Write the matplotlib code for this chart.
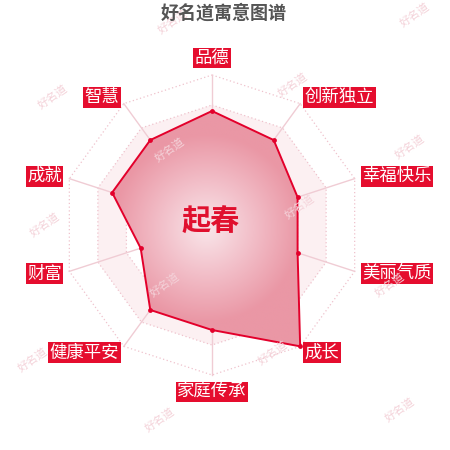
import numpy as np
import matplotlib
matplotlib.use("Agg")
import matplotlib.pyplot as plt
from matplotlib.patches import Polygon
from matplotlib.colors import LinearSegmentedColormap

plt.rcParams['font.family'] = ['Noto Sans CJK SC', 'DejaVu Sans']

# ---- data ----
categories = ["品德", "创新独立", "幸福快乐", "美丽气质", "成长",
              "家庭传承", "健康平安", "财富", "成就", "智慧"]
values = [76, 70, 60, 60, 100, 70, 70, 50, 70, 70]
max_value = 100
title = "好名道寓意图谱"
center_name = "起春"
watermark = "好名道"
watermark_px = [(173, 22), (415, 15), (293, 85), (53, 97), (410, 147),
                (170, 150), (300, 207), (45, 225), (390, 285), (165, 285),
                (33, 360), (273, 353), (160, 420), (400, 410)]

# ---- layout ----
W = H = 450
cx, cy, R = 212, 225, 150
RED = "#e3002b"
BOX = "#e50d2e"

fig = plt.figure(figsize=(4.5, 4.5), dpi=100)
ax = fig.add_axes([0, 0, 1, 1])
ax.set_xlim(-cx / R, (W - cx) / R)
ax.set_ylim(-(H - cy) / R, cy / R)
ax.axis("off")

n = len(categories)
theta = np.arange(n) * 2 * np.pi / n
sx, sy = np.sin(theta), np.cos(theta)

# watermarks (behind the chart)
for (wx, wy) in watermark_px:
    fig.text(wx / W, 1 - wy / H, watermark, ha="center", va="center",
             color="#f4d2d9", fontsize=8, rotation=35, zorder=0)

# split area bands (alternating)
levels = [0.2, 0.4, 0.6, 0.8, 1.0]
for i in range(len(levels) - 1, -1, -1):
    r = levels[i]
    if i in (1, 3):
        ax.add_patch(Polygon(np.c_[r * sx, r * sy], closed=True, fc="#fcf0f2",
                             ec="none", zorder=1))
    else:
        ax.add_patch(Polygon(np.c_[r * sx, r * sy], closed=True, fc="white",
                             ec="none", alpha=0.0 if i == 4 else 1.0, zorder=1))

# rings
for r in levels:
    xs = np.r_[r * sx, r * sx[0]]
    ys = np.r_[r * sy, r * sy[0]]
    ax.plot(xs, ys, color="#efc2cc", lw=0.9, ls=(0, (1, 2)), zorder=2)

# spokes
for i in range(n):
    ax.plot([0, sx[i]], [0, sy[i]], color="#f0ccd4", lw=1.0, zorder=2)

# data polygon
v = np.array(values) / max_value
px, py = v * sx, v * sy
poly = Polygon(np.c_[px, py], closed=True, fc="none", ec="none", zorder=3)
ax.add_patch(poly)
gx0, gx1, gy0, gy1 = px.min(), px.max(), py.min(), py.max()
gcx, gcy = (gx0 + gx1) / 2, (gy0 + gy1) / 2
grad_r = 0.5 * min(gx1 - gx0, gy1 - gy0)
gxx, gyy = np.meshgrid(np.linspace(-1.05, 1.05, 400), np.linspace(-1.05, 1.05, 400))
dist = np.clip(np.hypot(gxx - gcx, gyy - gcy) / grad_r, 0, 1)
cmap = LinearSegmentedColormap.from_list("g", ["#f9e6ea", "#f2bec8", "#ea97a5"])
im = ax.imshow(dist, extent=[-1.05, 1.05, -1.05, 1.05], origin="lower",
               cmap=cmap, vmin=0, vmax=1, zorder=3, interpolation="bilinear")
im.set_clip_path(poly)
ax.plot(np.r_[px, px[0]], np.r_[py, py[0]], color=RED, lw=1.4, zorder=4)
ax.scatter(px, py, s=12, color=RED, zorder=5, linewidths=0)

# category labels
rl = 158 / R
for i, name in enumerate(categories):
    s, c = sx[i], sy[i]
    ha = "left" if s > 0.01 else ("right" if s < -0.01 else "center")
    va = "bottom" if c > 0.99 else ("top" if c < -0.99 else "center")
    ax.text(rl * s, rl * c, name, ha=ha, va=va, color="white", fontsize=12.5,
            zorder=6, bbox=dict(boxstyle="square,pad=0.08", fc=BOX, ec="none"))

# center name
ax.text(-0.01, 0.02, center_name, ha="center", va="center", color="#e0102e",
        fontsize=21, fontweight="bold", zorder=6)

# title
fig.text(224 / W, 1 - 13 / H, title, ha="center", va="center", color="#555555",
         fontsize=13, fontweight="bold")

fig.savefig("out.png", dpi=100, facecolor="white")
